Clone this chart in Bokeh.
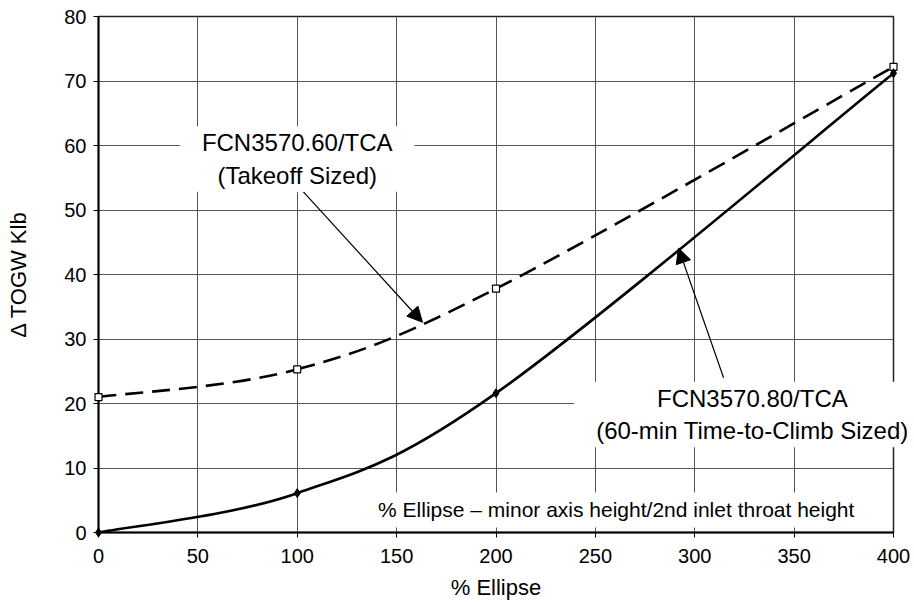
from bokeh.plotting import figure
from bokeh.models import Range1d, Arrow, NormalHead, FixedTicker
from bokeh.core.properties import value
from bokeh.embed import file_html
from bokeh.resources import INLINE

# Delta TOGW versus ellipse size for the two sized configurations
pct_ellipse = [0, 100, 200, 400]
takeoff_sized = [21.0, 25.3, 37.8, 72.2]
climb_sized = [0.0, 6.1, 21.6, 71.2]

x_ticks = [0, 50, 100, 150, 200, 250, 300, 350, 400]
y_ticks = [0, 10, 20, 30, 40, 50, 60, 70, 80]

# annotation anchors (data units)
takeoff_label_xy = (100, 57.9)
climb_label_xy = (326.5, 18.3)
note_xy = (260.5, 3.5)
takeoff_arrow = (103.1, 52.8, 163.0, 32.6)   # tail x, tail y, head x, head y
climb_arrow = (314.5, 24.0, 291.8, 44.1)

FONT = "Liberation Sans"


def smooth_segments(xs, ys):
    """Cubic Bezier control points for a smoothed line through the points."""
    n = len(xs)
    px = [xs[0]] + list(xs) + [xs[-1]]
    py = [ys[0]] + list(ys) + [ys[-1]]
    seg = dict(x0=[], y0=[], x1=[], y1=[], cx0=[], cy0=[], cx1=[], cy1=[])
    for i in range(1, n):
        seg["x0"].append(px[i]); seg["y0"].append(py[i])
        seg["x1"].append(px[i + 1]); seg["y1"].append(py[i + 1])
        seg["cx0"].append(px[i] + (px[i + 1] - px[i - 1]) / 6)
        seg["cy0"].append(py[i] + (py[i + 1] - py[i - 1]) / 6)
        seg["cx1"].append(px[i + 1] - (px[i + 2] - px[i]) / 6)
        seg["cy1"].append(py[i + 1] - (py[i + 2] - py[i]) / 6)
    return seg


p = figure(width=914, height=602, output_backend="svg", toolbar_location=None,
           x_range=Range1d(0, 400), y_range=Range1d(0, 80),
           min_border_left=98, min_border_right=21, min_border_top=16,
           min_border_bottom=69)
p.background_fill_color = "white"
p.border_fill_color = "white"
p.outline_line_color = "#222222"
p.outline_line_width = 1.5

p.xaxis.ticker = FixedTicker(ticks=x_ticks)
p.yaxis.ticker = FixedTicker(ticks=y_ticks)
for ax in (p.xaxis, p.yaxis):
    ax.axis_line_color = "black"
    ax.axis_line_width = 2
    ax.major_tick_line_color = "black"
    ax.major_tick_in = 0
    ax.major_tick_out = 5
    ax.minor_tick_line_color = None
    ax.major_label_text_font = FONT
    ax.major_label_text_font_size = "20px"
    ax.major_label_text_color = "black"
    ax.axis_label_text_font = FONT
    ax.axis_label_text_font_size = "22px"
    ax.axis_label_text_font_style = "normal"
    ax.axis_label_text_color = "black"
p.xaxis.axis_label = "% Ellipse"
p.yaxis.axis_label = "\u0394 TOGW Klb"
p.xaxis.major_label_standoff = 11
p.yaxis.major_label_standoff = 7
p.xaxis.axis_label_standoff = 9
p.yaxis.axis_label_standoff = 30

p.grid.grid_line_color = "#555555"
p.grid.grid_line_width = 1

# takeoff-sized configuration: dashed curve with open squares
t = smooth_segments(pct_ellipse, takeoff_sized)
p.bezier(x0=t["x0"], y0=t["y0"], x1=t["x1"], y1=t["y1"],
         cx0=t["cx0"], cy0=t["cy0"], cx1=t["cx1"], cy1=t["cy1"],
         line_color="black", line_width=2.6, line_dash="18 9")
p.scatter(pct_ellipse, takeoff_sized, marker="square", size=7,
          fill_color="white", line_color="black", line_width=1.2,
          level="overlay")

# time-to-climb sized configuration: solid curve with diamonds
c = smooth_segments(pct_ellipse, climb_sized)
p.bezier(x0=c["x0"], y0=c["y0"], x1=c["x1"], y1=c["y1"],
         cx0=c["cx0"], cy0=c["cy0"], cx1=c["cx1"], cy1=c["cy1"],
         line_color="black", line_width=2.6)
p.scatter(pct_ellipse, climb_sized, marker="diamond", size=9,
          fill_color="black", line_color="black", level="overlay")

# callouts
for (x0, y0, x1, y1) in (takeoff_arrow, climb_arrow):
    p.add_layout(Arrow(x_start=x0, y_start=y0, x_end=x1, y_end=y1,
                       line_color="black", line_width=1.2,
                       end=NormalHead(size=15, fill_color="black",
                                      line_color="black")))


def boxed_text(xy, text, size, pad):
    # text on a white box, drawn above the frame clip
    p.text(x=[xy[0]], y=[xy[1]], text=[text], text_font=value(FONT),
           text_font_size=size, text_color="black", text_align="center",
           text_baseline="middle", text_line_height=1.2,
           background_fill_color="white", padding=pad, level="overlay")


boxed_text(takeoff_label_xy, "FCN3570.60/TCA\n(Takeoff Sized)", "24px",
           dict(left=22, right=22, top=3, bottom=3))
boxed_text(climb_label_xy, "FCN3570.80/TCA\n(60-min Time-to-Climb Sized)",
           "24px", dict(left=22, right=12, top=3, bottom=3))
boxed_text(note_xy, "% Ellipse \u2013 minor axis height/2nd inlet throat height",
           "21px", dict(left=6, right=6, top=6, bottom=6))

open("out.html", "w").write(file_html(p, INLINE))
